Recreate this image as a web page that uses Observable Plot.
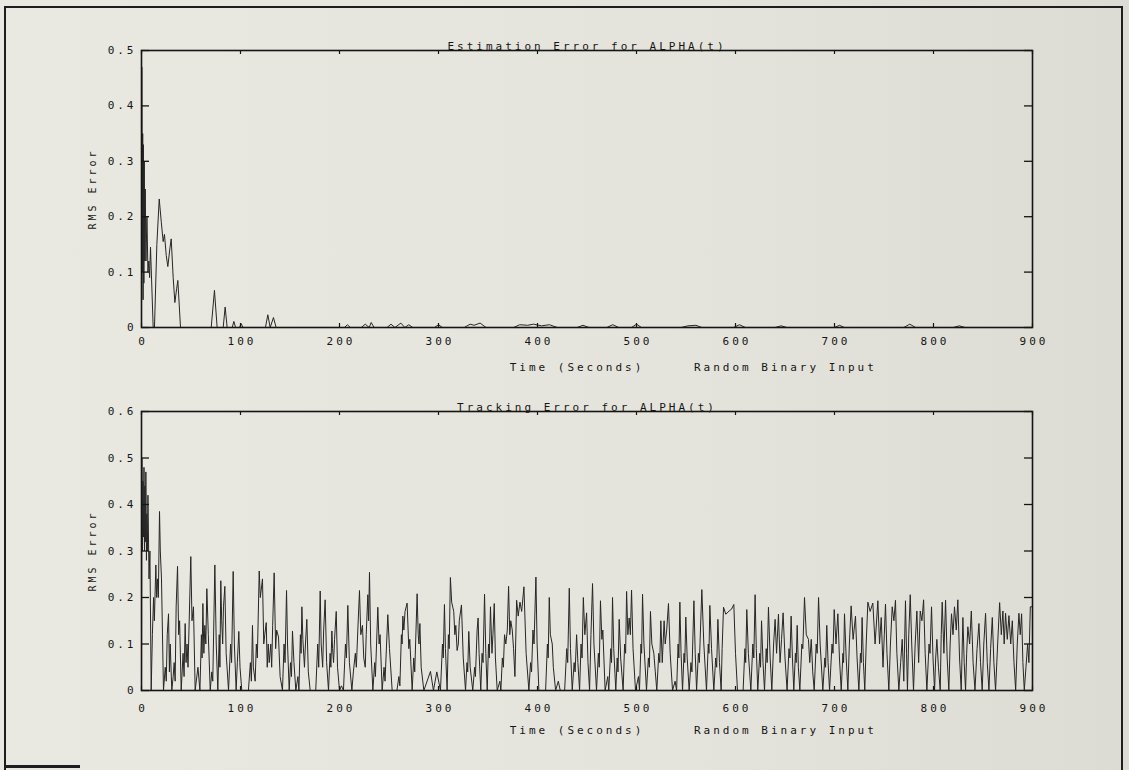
<!DOCTYPE html>
<html>
<head>
<meta charset="utf-8">
<script src="https://cdn.jsdelivr.net/npm/d3@7"></script>
<script src="https://cdn.jsdelivr.net/npm/@observablehq/plot@0.6"></script>
<style>
html, body { margin: 0; padding: 0; background: #e6e6de; }
#fig { position: relative; width: 1129px; height: 770px; overflow: hidden;
       background: linear-gradient(90deg, #e9e9e2 0%, #e4e4dc 60%, #dcdcd4 100%); }
#fig svg { position: absolute; left: 0; }
#border { position: absolute; left: 4px; top: 6px; width: 1115px; height: 770px;
          border-left: 2px solid #1e1e1e; border-top: 2px solid #1e1e1e; border-right: 2px solid #1e1e1e; }
#bottomline { position: absolute; left: 5px; top: 765px; width: 75px; height: 3px; background: #1e1e1e; }
</style>
</head>
<body>
<div id="fig"><div id="border"></div><div id="bottomline"></div></div>
<script>
// ---------- data ----------
const xTicks = [0, 100, 200, 300, 400, 500, 600, 700, 800, 900];
const yTicksEst = [0, 0.1, 0.2, 0.3, 0.4, 0.5];
const yTicksTrk = [0, 0.1, 0.2, 0.3, 0.4, 0.5, 0.6];

const titleEst = "Estimation Error for ALPHA(t)";
const titleTrk = "Tracking Error for ALPHA(t)";
const xLabelA = "Time (Seconds)";
const xLabelB = "Random Binary Input";
const yLabel = "RMS Error";

// Estimation error (top panel): [time (s), RMS error]
const estimation = [
  [0,0],[0.3,0.47],[0.8,0.1],[1.2,0.35],[1.6,0.05],[2,0.33],[2.4,0.08],[2.8,0.3],[3.3,0.12],[3.8,0.25],[4.5,0.12],
  [5.5,0.2],[6.5,0.1],[7.4,0.12],[8.2,0.09],[9.1,0.145],[11.8,0],[13.1,0],[15.5,0.15],[17.9,0.232],[20,0.19],
  [21.9,0.155],[23.2,0.168],[25,0.13],[26.6,0.11],[28.5,0.14],[30,0.16],[32,0.09],[33.7,0.045],[35.5,0.07],[36.7,0.085],[39.4,0],
  [70.4,0],[73.7,0.067],[76.4,0],[82.5,0],[84.5,0.037],[86.5,0],[91.6,0],[93.3,0.011],[95,0],[99,0],[100.7,0.007],[102.5,0],
  [125.2,0],[127.6,0.023],[130,0],[133.3,0.018],[136,0],
  [205,0],[208,0.005],[211,0],[222,0],[226,0.006],[230,0],[232,0.009],[235,0],[248,0],[252,0.006],[256,0],[262,0.008],
  [266,0],[270,0.005],[274,0],[296,0],[300,0.005],[304,0],[326,0],[332,0.006],[336,0.004],[342,0.008],[348,0],
  [376,0],[382,0.005],[390,0.004],[396,0.006],[404,0.003],[412,0.005],[420,0],[440,0],[446,0.004],[452,0],
  [470,0],[476,0.005],[482,0],[495,0],[500,0.006],[505,0],[545,0],[552,0.003],[560,0.004],[566,0],[598,0],[604,0.005],
  [610,0],[640,0],[646,0.003],[652,0],[700,0],[705,0.004],[710,0],[770,0],[776,0.006],[782,0],[820,0],[826,0.003],[832,0],[900,0]
];

// Tracking error (bottom panel): [time (s), RMS error], in three stretches
const tracking0to300 = [
  [0,0],[0.4,0.5],[1,0.3],[1.5,0.45],[2,0.33],[2.5,0.48],[3,0.3],[3.4,0.44],[4,0.32],[4.4,0.47],[5,0.28],[5.4,0.38],
  [6,0.3],[6.5,0.42],[7.6,0.24],[8.5,0.3],[9.8,0],[11,0.12],[12.2,0.2],[13,0.15],[14.5,0.27],[15.3,0.2],[16.2,0.24],
  [17,0.2],[18.2,0.385],[19,0.3],[20.2,0.24],[22.2,0],[24,0.05],[25,0.02],[26,0.12],[27.3,0.165],[28.2,0.04],[29,0.1],
  [30.6,0],[32,0.03],[33,0.06],[34,0.02],[35,0.18],[36.4,0.267],[37.5,0.12],[38.5,0.15],[40.1,0],[42,0.08],[43,0.03],
  [44.1,0.144],[45,0.06],[46,0.1],[47,0.05],[49.8,0.288],[51,0.15],[52.5,0.18],[54.2,0],[57,0.05],[59,0],[60.5,0.12],
  [61.2,0.07],[62,0.187],[63,0.08],[64,0.14],[65,0.1],[66,0.219],[67.5,0.12],[69.4,0],[71,0.04],[72,0.02],[74.1,0.27],
  [75.5,0.1],[77.1,0],[78.5,0.12],[79.2,0.05],[80.1,0.236],[81,0.15],[82,0.1],[82.8,0.18],[84.2,0.224],[85.5,0.08],
  [87.9,0],[90,0.1],[91,0.06],[92.6,0.256],[93.8,0.1],[95.6,0],[96.8,0.06],[98.3,0.127],[99.5,0.05],[101.3,0],[108,0],
  [110,0.06],[111,0.02],[112.1,0.14],[113,0.05],[114.8,0.02],[116,0.1],[117,0.07],[118.9,0.257],[120,0.2],[122.2,0.24],
  [123.5,0.1],[124.5,0.12],[126,0.146],[127,0.05],[128,0.1],[129,0.06],[130.6,0.1],[131.5,0.05],[132.5,0.14],[134,0.253],
  [135.5,0.09],[136.5,0.13],[138.4,0.115],[140,0.03],[142.4,0],[144,0.1],[145,0.06],[146.5,0.215],[147.5,0.1],[149.2,0],
  [150.5,0.06],[151.5,0.03],[152.5,0.128],[154,0.06],[155.9,0],[158,0.03],[159,0],[160.5,0.12],[161.2,0.08],[162,0.18],
  [163,0.11],[164.6,0.05],[165.6,0.1],[167,0.153],[168.5,0.04],[170.4,0],[176,0],[178,0.1],[179,0.05],[180.5,0.214],
  [181.5,0.1],[183,0.05],[184,0.13],[185.5,0.195],[187,0.06],[188.9,0],[190.5,0.08],[191.3,0.05],[192.3,0.128],[193,0.09],
  [194,0.06],[195,0.11],[196.7,0.17],[198,0.05],[200,0],[202,0.01],[204,0],[206,0.1],[207,0.07],[208.4,0.183],[210,0.06],
  [212.5,0],[214,0.04],[216,0.08],[217,0.05],[218.5,0.13],[220.2,0.215],[221.5,0.12],[223.2,0.14],[224.5,0.07],[226,0.05],
  [227,0.12],[228.6,0.206],[229.4,0.15],[230.3,0.254],[231.5,0.1],[233.7,0],[235.5,0.06],[236.3,0.03],[238.7,0.179],
  [240,0.1],[241,0.12],[243.1,0],[245,0.05],[246,0.02],[248.8,0.163],[250.5,0.09],[253.2,0],[258,0],[260,0.03],[261,0.01],
  [262.5,0.12],[263.2,0.1],[264,0.16],[265,0.13],[266.2,0.17],[268.3,0.188],[270,0.09],[271,0.11],[273.4,0],[275,0.07],
  [276,0.04],[278.4,0.208],[279.5,0.12],[280.3,0.1],[281.2,0.144],[282.5,0.05],[285.2,0],[291.9,0.041],[294.9,0],
  [298.3,0.04],[302,0]
];
const tracking300to600 = [
  [304,0.1],[304.8,0.07],[306,0.185],[307,0.09],[308.7,0],[310,0.12],[310.8,0.09],[312,0.243],[313.3,0.19],[315.4,0.17],
  [316.5,0.12],[317.5,0.14],[318.8,0.086],[320,0.1],[321,0.15],[323.2,0.184],[325,0.07],[327.3,0],[328.8,0.06],[329.5,0.04],
  [330.6,0.127],[332,0.05],[334.6,0],[336.5,0.05],[337.3,0.03],[339,0.13],[340,0.156],[341,0.08],[342.7,0],[344,0.08],
  [345,0.06],[346.5,0.207],[347.8,0.08],[349.2,0],[350.5,0.1],[351.3,0.07],[352.5,0.18],[354,0.08],[355,0.12],[356.3,0.187],
  [357.5,0.07],[359.3,0],[362,0.02],[363,0],[364.5,0.07],[365.5,0.05],[366.7,0.12],[368,0.1],[369.5,0.13],[370.8,0.224],
  [372,0.12],[373,0.15],[374.5,0.13],[375.8,0.09],[377.2,0.03],[378.9,0.194],[380.5,0.16],[382.3,0.19],[384,0.17],
  [386.3,0.223],[388.5,0.08],[391.3,0],[393,0.06],[394,0.04],[395.4,0.13],[396.5,0.1],[398.4,0.244],[399.6,0.1],[401.4,0],
  [408.2,0],[410,0.1],[410.8,0.07],[411.9,0.2],[413,0.12],[414.9,0.1],[416,0.05],[418.3,0],[421,0.02],[423,0],[427.4,0],
  [429.5,0.09],[430.5,0.06],[432.1,0.22],[433.3,0.09],[435.1,0],[437,0.06],[438,0.04],[439.5,0.12],[440.8,0.06],[442.5,0],
  [444,0.1],[445,0.07],[446.3,0.2],[447.8,0.12],[449.6,0.167],[451,0.06],[452.6,0],[454,0.12],[455.6,0.23],[457,0.1],
  [459.6,0],[461.5,0.08],[462.4,0.05],[463.6,0.193],[465,0.11],[466,0.13],[468.3,0],[471,0.03],[472,0],[474,0.09],
  [474.8,0.06],[475.8,0.2],[477,0.09],[479.1,0],[480.5,0.07],[481.3,0.04],[482.5,0.153],[484,0.07],[486.5,0],[488,0.1],
  [489,0.08],[490,0.213],[491.3,0.12],[492.6,0.156],[493.8,0.12],[495,0.216],[496.5,0.09],[499,0],[502,0.03],[503,0],
  [504.5,0.1],[505.2,0.08],[506.1,0.207],[507.5,0.1],[510.1,0],[512,0.07],[513,0.05],[514.1,0.17],[515.5,0.1],[517.5,0.08],
  [519,0.04],[520.5,0],[522.5,0.08],[523.5,0.06],[524.6,0.15],[526,0.06],[527.9,0.15],[529,0.1],[530.5,0.13],[532.3,0.187],
  [534,0.08],[536.4,0],[539,0.02],[540.5,0],[542,0.1],[542.8,0.07],[543.8,0.19],[545,0.08],[546.5,0],[548,0.08],
  [548.8,0.06],[549.8,0.158],[551.2,0.07],[553.2,0],[555,0.06],[556,0.04],[558,0.193],[559.3,0.08],[560.7,0],[562.5,0.08],
  [563.5,0.06],[566,0.217],[568,0.1],[570.7,0],[572.5,0.1],[573.2,0.08],[574.1,0.183],[575.8,0.09],[578.1,0],[580,0.07],
  [581,0.05],[582.2,0.153],[583.8,0.06],[585.5,0],[586.5,0.09],[587.9,0.179],[590.2,0.164],[593.6,0.171],[596,0.175],
  [598.3,0.185],[600,0.08]
];
const tracking600to900 = [
  [602,0],[607.7,0],[609.5,0.09],[610.3,0.06],[611.4,0.174],[613,0.08],[615.5,0],[617.5,0.1],[618.5,0.07],[619.8,0.206],
  [621,0.09],[622.5,0],[624.5,0.08],[625.3,0.05],[626.3,0.15],[627.8,0.06],[629.3,0],[631,0.09],[632,0.06],[633.3,0.179],
  [635,0.07],[636.7,0],[638.5,0.1],[640,0.153],[641.5,0.08],[643.4,0.164],[645,0.06],[646.5,0.11],[648.1,0.167],[650,0.07],
  [652.1,0],[654,0.09],[655,0.07],[656.2,0.16],[657.5,0.07],[658.9,0],[660.5,0.08],[661.3,0.06],[662.3,0.14],[663.5,0.05],
  [665,0],[667,0.1],[668,0.09],[669.7,0.2],[671.5,0.12],[673.7,0.11],[675,0.06],[676.5,0.11],[678,0.04],[679.5,0],
  [681.5,0.1],[682.5,0.08],[683.9,0.2],[685.5,0.1],[688.2,0],[690.2,0.07],[691,0.05],[692.2,0.14],[693.5,0.06],[695,0],
  [697.5,0.1],[698.5,0.08],[699.7,0.174],[701.5,0.1],[703.4,0.165],[705,0.07],[706.8,0],[708.5,0.08],[709.2,0.06],
  [710.1,0.165],[711.8,0.07],[713.5,0],[715,0.1],[716.8,0.182],[718.8,0.11],[721.2,0.16],[722.8,0.07],[724.6,0],[726.2,0.08],
  [727,0.06],[727.9,0.157],[729.2,0.06],[730.6,0],[732,0.1],[733.7,0.19],[736,0.17],[738.7,0.188],[741,0.1],[743.8,0.193],
  [745.5,0.1],[747.2,0.157],[749,0.05],[750.3,0.12],[751.5,0.186],[753,0.08],[754.9,0],[756.5,0.1],[758.3,0.18],[760,0.15],
  [761.6,0.194],[763,0.08],[765,0],[766.8,0.06],[768.4,0.11],[770,0.02],[771.7,0.193],[772.8,0.08],[773.7,0],[775,0.12],
  [776.5,0.206],[778,0.1],[779.8,0],[781.5,0.1],[783.2,0.171],[785,0.06],[786.6,0.171],[788.3,0.15],[790,0.195],[791.6,0.08],
  [793.3,0],[795.5,0.1],[796.5,0.08],[798,0.18],[799.5,0.07],[801.1,0],[802.2,0.07],[803.4,0.11],[805,0.05],[806.8,0],
  [807.8,0.12],[808.8,0.19],[810.5,0.08],[812.2,0.194],[813.8,0.07],[815.5,0],[816.8,0.1],[818.2,0.165],[819.7,0.12],
  [821.2,0.18],[823,0.13],[824.6,0.195],[826.3,0.07],[828,0],[829.7,0.157],[831,0.06],[832.4,0],[833.5,0.08],[834.7,0.137],
  [836.5,0.1],[838.2,0.171],[840,0.06],[841.9,0],[844,0.09],[845.9,0.144],[847.5,0.06],[849.2,0],[850.8,0.1],[852.6,0.166],
  [854.3,0.06],[856,0],[857.7,0.09],[859.4,0.157],[861,0.06],[862.7,0],[864.8,0.1],[866.8,0.189],[868.5,0.12],[870.1,0.171],
  [871.4,0.1],[872.8,0.166],[874.5,0.11],[876.2,0.161],[878,0.1],[879.6,0.15],[881.3,0.06],[883,0],[884.6,0.1],[886.3,0.166],
  [887.6,0.12],[889,0.165],[890.3,0.06],[891.7,0],[893.4,0.05],[895.1,0.1],[896.4,0.06],[897.8,0.18],[900,0.18]
];

// ---------- drawing ----------
const FONT = "'DejaVu Sans Mono', 'Liberation Mono', monospace";
const INK = "#151515";
const yFmt = d => d === 0 ? "0" : d.toFixed(1);
const W = 1129, ML = 141, MR = 97;
const plotW = W - ML - MR;

function panel({rows, yMax, yTicks, title, top, height, marginTop, marginBottom, xPad}) {
  const data = rows.map(([t, v]) => ({t, v}));
  const plotH = height - marginTop - marginBottom;
  const svg = Plot.plot({
    width: W,
    height,
    marginLeft: ML,
    marginRight: MR,
    marginTop,
    marginBottom,
    style: {background: "transparent", fontFamily: FONT, fontSize: "11px", color: INK, letterSpacing: "3px", overflow: "visible"},
    x: {domain: [0, 900], label: null},
    y: {domain: [0, yMax], label: null},
    marks: [
      Plot.line(data, {x: "t", y: "v", stroke: "#262626", strokeWidth: 1}),
      Plot.frame({stroke: "#151515", strokeWidth: 1.6}),
      // inward tick marks on all four sides
      Plot.ruleY(yTicks, {y: d => d, insetRight: plotW - 8, stroke: "#151515", strokeWidth: 1.3}),
      Plot.ruleY(yTicks, {y: d => d, insetLeft: plotW - 8, stroke: "#151515", strokeWidth: 1.3}),
      Plot.ruleX(xTicks, {x: d => d, insetBottom: plotH - 4, stroke: "#151515", strokeWidth: 1.2}),
      Plot.ruleX(xTicks, {x: d => d, insetTop: plotH - 4, stroke: "#151515", strokeWidth: 1.2}),
      // tick labels
      Plot.axisY({ticks: yTicks, anchor: "left", tickSize: 0, tickPadding: 5, tickFormat: yFmt, label: null, fill: INK, fontSize: 11}),
      Plot.axisX({ticks: xTicks, anchor: "bottom", tickSize: 0, tickPadding: xPad, tickFormat: d => String(d), label: null, fill: INK, fontSize: 11, dx: 1.5}),
      // titles and axis labels
      Plot.text([title], {frameAnchor: "top", lineAnchor: "bottom", dy: -1, fontSize: 11, fill: INK}),
      Plot.text([xLabelA], {frameAnchor: "bottom", lineAnchor: "middle", dy: 40, dx: -10, fontSize: 11, fill: INK}),
      Plot.text([xLabelB], {frameAnchor: "bottom", lineAnchor: "middle", textAnchor: "start", dy: 40, dx: 107, fontSize: 11, fill: INK}),
      Plot.text([yLabel], {frameAnchor: "left", textAnchor: "middle", rotate: -90, dx: -49, fontSize: 10, fill: INK})
    ]
  });
  svg.style.top = top + "px";
  document.getElementById("fig").appendChild(svg);
}

panel({rows: estimation, yMax: 0.5, yTicks: yTicksEst, title: titleEst, top: 0, height: 385, marginTop: 50, marginBottom: 58, xPad: 10});
panel({rows: [...tracking0to300, ...tracking300to600, ...tracking600to900], yMax: 0.6, yTicks: yTicksTrk, title: titleTrk, top: 385, height: 385, marginTop: 26, marginBottom: 80, xPad: 14});
</script>
</body>
</html>
